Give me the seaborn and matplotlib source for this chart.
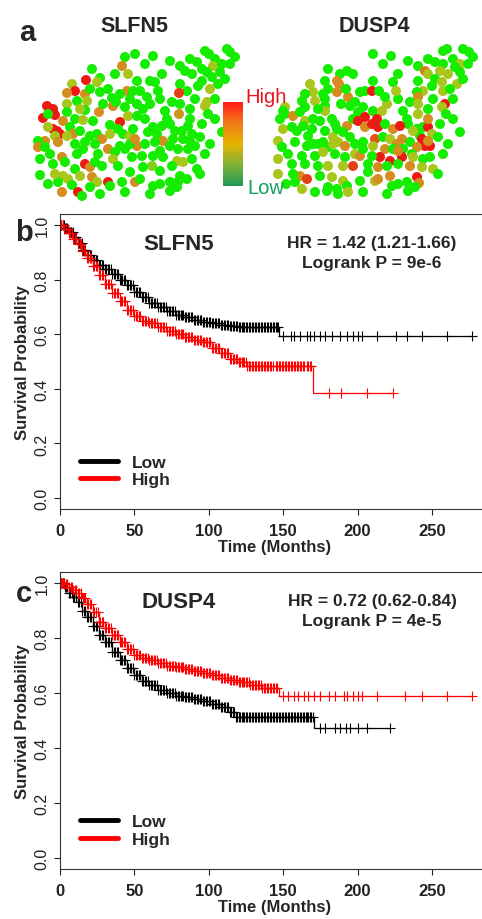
"""SLFN5 / DUSP4 figure: spatial expression maps (a) and Kaplan-Meier curves (b, c)."""

import matplotlib as mpl
import matplotlib.pyplot as plt
import numpy as np
import seaborn as sns
from matplotlib.colors import LinearSegmentedColormap
from matplotlib.lines import Line2D

sns.set_theme(style="ticks")
mpl.rcParams.update(
    {
        "axes.linewidth": 0.8,
        "axes.edgecolor": "#333333",
        "xtick.color": "#222222",
        "ytick.color": "#222222",
        "xtick.major.size": 4,
        "ytick.major.size": 4,
        "xtick.major.width": 0.8,
        "ytick.major.width": 0.8,
        "xtick.major.pad": 6,
    }
)
plt.rcParams["font.family"] = ["Liberation Sans", "DejaVu Sans"]

# ---- panel a: spot positions (embedding units) and relative expression 0..1
SLFN5_X = [105, 95, 92, 98, 62, 70, 67, 56, 42, 45, 37, 55, 70, 47, 37, 57, 17, 23, 13, 25,
           18, 37, 33, 45, 55, 53, 69, 63, 82, 83, 86, 97, 90, 103, 100, 95, 107, 98, 90, 80,
           23, 27, 30, 18, 25, 28, 15, 8, 8, 15, 40, 43, 37, 50, 60, 67, 72, 80, 88, 93,
           100, 103, 107, 100, 90, 78, 85, 68, 53, 47, 32, 35, 23, 55, 60, 65, 72, 83, 88, 102,
           45, 10, 33, 38, 50, 62, 67, 78, 80, 92, 28, 42, 32, 48, 52, 105, 123, 175, 179, 197,
           200, 185, 183, 192, 167, 172, 190, 177, 150, 155, 162, 182, 172, 188, 180, 168, 150, 157, 149, 132,
           125, 120, 107, 110, 175, 177, 160, 149, 135, 137, 113, 120, 115, 107, 160, 158, 152, 162, 153, 143,
           123, 127, 118, 105, 133, 125, 115, 140, 148, 158, 165, 192, 112, 123, 133, 147, 153, 162, 167, 170,
           142, 122, 113, 130, 150, 123, 130, 140, 148, 120, 140, 147, 157,
           130, 142, 128, 117, 150, 165, 185, 195, 200, 205, 160, 140, 115, 85, 78, 60, 50, 73, 65, 55,
           45, 20, 10, 25, 18, 60, 70, 95, 100, 110, 95, 130, 175, 180, 170, 172, 178, 185, 140, 132,
           160, 145]
SLFN5_Y = [145, 142, 133, 125, 130, 121, 117, 119, 115, 108, 106, 105, 107, 98, 95, 98, 93, 90, 81, 84,
           85, 87, 78, 80, 89, 79, 87, 78, 101, 93, 97, 108, 105, 108, 100, 92, 95, 83, 77, 74,
           70, 68, 65, 72, 63, 57, 58, 58, 52, 52, 72, 65, 63, 68, 63, 65, 60, 65, 70, 65,
           63, 70, 53, 55, 53, 50, 47, 45, 50, 45, 42, 37, 35, 35, 32, 37, 33, 40, 33, 42,
           30, 24, 23, 20, 23, 22, 17, 17, 13, 17, 17, 14, 7, 7, 3, 17, 143, 148, 145, 150,
           147, 140, 133, 135, 137, 130, 127, 127, 133, 128, 125, 122, 118, 115, 110, 113, 115, 108, 106, 125,
           117, 118, 118, 108, 93, 97, 90, 85, 88, 80, 90, 95, 80, 83, 80, 73, 68, 65, 60, 60,
           72, 65, 67, 60, 58, 57, 55, 53, 50, 50, 53, 67, 43, 43, 42, 38, 37, 40, 30, 25,
           33, 33, 32, 28, 23, 13, 15, 17, 17, 5, 8, 12, 20,
           100, 97, 108, 102, 95, 100, 100, 120, 135, 142, 140, 138, 135, 125, 110, 110, 90, 95, 55, 57,
           55, 45, 40, 25, 15, 12, 5, 7, 27, 20, 50, 48, 45, 55, 62, 75, 85, 80, 75, 73,
           58, 68]
SLFN5_EXPR = [0, 0, .7, .4, 0, 0, .4, 1, .4, 1, .7, .7, 0, 0, .4, .4, 1, 1, 1, 1,
              0, 0, .7, 0, 0, .4, .7, 0, 0, .7, 0, .7, 0, 0, 0, 0, 0, .4, 1, 0,
              1, 1, 1, .4, .4, .7, .7, 0, .7, 0, 0, .7, .4, 0, 0, 0, .7, .4, 0, 0,
              .4, 0, .7, 0, 0, .7, 0, 0, 0, 0, .7, 0, 0, 1, .7, 0, 0, .4, 0, 0,
              0, 0, .4, .4, .4, .7, .4, 1, 0, 0, 0, 0, .7, 1, 0, .7, 0, 0, 0, 0,
              0, 0, .4, 0, 0, 0, 0, 0, 0, 0, 0, 0, 0, 0, .4, 0, 0, 0, .9, 0,
              0, 0, 0, 0, .4, .4, 0, .65, 0, 0, 0, 0, 0, 0, 0, 0, 0, 0, 0, 0,
              0, 0, 0, .7, .7, 0, 0, 0, 0, 0, 0, 0, 0, 0, 0, .4, .4, 0, 0, 0,
              0, .3, 0, 0, 0, 0, 0, 0, 0, 0, 0, 0, 0,
              0, 0, 0, 0, 0, 0, 0, 0, 0, 0, 0, 0, 0, 0, 0, 0, .4, 0, 0, 0,
              0, 0, 0, .4, 0, 0, 0, 0, 0, 0, 0, 0, 0, 0, 0, 0, 0, 0, 0, 0,
              0, 0]

DUSP4_X = [60, 72, 79, 69, 71, 57, 42, 45, 55, 69, 37, 47, 57, 57, 34, 17, 37, 12, 17, 25,
           32, 37, 45, 52, 57, 64, 67, 80, 82, 87, 92, 97, 104, 95, 90, 85, 90, 97, 105, 15,
           24, 29, 35, 44, 40, 57, 65, 69, 79, 75, 82, 97, 104, 10, 14, 27, 39, 50, 60, 70,
           77, 87, 95, 34, 47, 55, 67, 77, 87, 92, 24, 37, 50, 60, 75, 85, 100, 10, 32, 39,
           27, 52, 64, 75, 79, 92, 34, 47, 59, 69, 80, 105, 123, 175, 179, 195, 201, 185, 167, 175,
           192, 187, 150, 157, 160, 172, 180, 192, 130, 125, 105, 150, 167, 174, 189, 164, 155, 149, 175, 182,
           150, 177, 174, 111, 119, 114, 135, 139, 150, 160, 109, 110, 117, 125, 149, 155, 160, 160, 164, 152,
           192, 107, 115, 122, 134, 129, 142, 154, 157, 162, 149, 105, 117, 125, 135, 144, 112, 122, 134, 145,
           155, 162, 104, 110, 119, 130, 142, 154, 165, 170, 107, 122, 149, 151, 139, 124, 130, 147, 119, 140,
           15,
           130, 142, 128, 117, 150, 165, 185, 195, 200, 205, 160, 140, 115, 85, 78, 60, 50, 73, 65, 55,
           45, 20, 10, 25, 18, 60, 70, 95, 100, 110, 95, 130, 175, 180, 170, 172, 178, 185, 140, 132,
           160, 145]
DUSP4_Y = [130, 125, 128, 118, 115, 118, 115, 107, 105, 107, 105, 98, 100, 93, 98, 92, 92, 80, 85, 83,
           87, 78, 80, 78, 88, 80, 75, 102, 93, 97, 107, 108, 108, 92, 87, 80, 78, 82, 88, 70,
           72, 68, 73, 70, 63, 68, 62, 70, 73, 67, 62, 72, 75, 58, 52, 57, 53, 55, 52, 57,
           53, 55, 57, 43, 43, 47, 45, 42, 45, 43, 35, 35, 33, 33, 33, 33, 35, 25, 23, 20,
           17, 23, 22, 18, 13, 18, 10, 7, 8, 10, 7, 145, 143, 148, 150, 150, 147, 140, 137, 135,
           135, 132, 133, 128, 125, 128, 125, 127, 125, 117, 118, 118, 120, 117, 115, 113, 108, 107, 108, 110,
           102, 95, 92, 108, 95, 88, 88, 80, 85, 90, 80, 72, 75, 70, 70, 72, 72, 80, 65, 63,
           67, 60, 62, 60, 60, 55, 57, 60, 53, 53, 52, 53, 50, 50, 50, 45, 42, 38, 42, 42,
           40, 42, 43, 32, 33, 35, 33, 32, 30, 25, 18, 23, 22, 16, 17, 13, 15, 12, 5, 8,
           88,
           100, 97, 108, 102, 95, 100, 100, 120, 135, 142, 140, 138, 135, 125, 110, 110, 90, 95, 55, 57,
           55, 45, 40, 25, 15, 12, 5, 7, 27, 20, 50, 48, 45, 55, 62, 75, 85, 80, 75, 73,
           58, 68]
DUSP4_EXPR = [0, 0, 0, .7, .7, 0, .4, .4, 0, .7, 0, .4, 0, 0, 0, .4, 0, 0, 0, .7,
              0, .4, 0, 0, .4, 0, 0, .7, 0, 0, 0, 0, 1, 0, 0, 0, 1, 1, 0, .4,
              0, 0, 0, 0, 0, 0, .4, 0, .7, 0, 0, .7, 1, .4, 0, 0, 0, 0, 0, .4,
              .7, 0, 0, 0, 0, .4, 0, 0, .4, .7, 0, 0, 0, .4, .4, .9, 0, .4, .7, .9,
              0, 0, .4, .4, 0, 0, .4, 0, 0, 0, .4, 0, 0, 0, 0, 0, 0, 0, 0, 0,
              .4, 0, 0, .75, .4, .4, .4, 0, 0, 0, 0, 0, 0, .4, .4, 0, .4, 0, .4, 0,
              .7, 1, .4, 0, .4, .4, 0, 0, .4, 0, 1, 1, 0, .7, 0, 0, 1, .7, .4, 0,
              0, .85, 0, .4, .7, .7, 0, 1, 1, 1, .7, .4, .7, 0, 0, 0, 1, 1, 1, .4,
              0, 0, 0, .7, 0, 0, .7, .4, .4, 0, .45, .7, 1, .7, 0, 0, 0, 0, 0, 0,
              0,
              0, 0, .4, 0, .4, 0, 0, 0, 0, 0, 0, 0, 0, 0, 0, 0, 0, 0, .4, 0,
              0, 0, .4, 0, 0, 0, 0, 0, 0, .7, 0, .7, 0, 0, 0, 0, 0, 0, 0, 1,
              .7, .4]

# ---- panels b, c: Kaplan-Meier step points (months, survival) and censor times
SLFN5_LOW_T = [0, 3, 6, 9, 12, 15, 18, 22, 26, 30, 35, 40, 45, 50, 55, 60, 66, 72, 78, 84,
               90, 96, 102, 108, 114, 120, 130, 147, 277]
SLFN5_LOW_S = [1.0, 0.99, 0.975, 0.955, 0.935, 0.91, 0.89, 0.87, 0.855, 0.84, 0.82, 0.80, 0.78,
               0.755, 0.735, 0.715, 0.70, 0.685, 0.672, 0.662, 0.653, 0.645, 0.64, 0.635, 0.63,
               0.628, 0.625, 0.593, 0.593]
SLFN5_LOW_CENS = [1, 2.5, 4, 5, 7, 8.5, 10, 11, 13, 14.5, 16, 17, 19, 21, 22, 24, 26, 27, 29, 31,
                  33, 34, 36, 38, 40, 41, 43, 45, 47, 48, 50, 52, 54, 56, 57, 59, 61, 63, 65, 66,
                  68, 70, 72, 74, 75, 77, 79, 81, 83, 84, 86, 88, 90, 92, 94, 95, 97, 99, 101, 103,
                  104, 106, 108, 110, 112, 113, 115, 117, 119, 121, 122, 124, 126, 128, 130, 132,
                  134, 136, 138, 140, 141, 143, 145, 146, 150, 155, 157, 161, 166, 168, 171, 175,
                  178, 183, 188, 193, 197, 200, 203, 213, 226, 233, 243, 260, 277,
                  60, 62, 64, 67, 69, 71, 73, 76, 78, 80, 82, 85, 87, 89, 91, 93, 96, 98, 100,
                  102, 105, 107, 109, 111, 114, 116, 118, 120, 123, 125, 127, 129, 131, 133, 135,
                  137, 139, 142, 144, 146.5,
                  0.5, 2, 3.5, 6, 7.5, 9.5, 12, 13.5, 15.5, 18, 20, 23, 25, 28, 30, 32, 35, 37,
                  39, 42, 44, 46, 49, 51, 53, 55, 58]
SLFN5_HIGH_T = [0, 3, 6, 9, 12, 15, 18, 22, 26, 30, 35, 40, 45, 50, 55, 60, 66, 72, 78, 84,
                90, 96, 102, 108, 114, 120, 126, 170, 224]
SLFN5_HIGH_S = [1.0, 0.985, 0.97, 0.95, 0.93, 0.905, 0.88, 0.85, 0.815, 0.785, 0.75, 0.72, 0.69,
                0.665, 0.65, 0.64, 0.625, 0.612, 0.60, 0.59, 0.58, 0.57, 0.55, 0.53, 0.51, 0.50,
                0.485, 0.386, 0.386]
SLFN5_HIGH_CENS = [1, 2, 4, 5.5, 7, 9, 10, 12, 13.5, 15, 17, 18, 20, 22, 23, 25, 27, 29, 30, 32,
                   34, 36, 37, 39, 41, 43, 45, 46, 48, 50, 52, 54, 55, 57, 59, 61, 63, 64, 66, 68,
                   70, 72, 73, 75, 77, 79, 81, 82, 84, 86, 88, 90, 91, 93, 95, 97, 99, 100, 102,
                   104, 106, 108, 109, 111, 113, 115, 117, 118, 120, 122, 124, 127, 130, 132, 134,
                   137, 140, 141, 145, 147, 150, 152, 153, 156, 159, 162, 164, 168, 181, 189, 206, 224,
                   60, 62, 65, 67, 69, 71, 74, 76, 78, 80, 83, 85, 87, 89, 92, 94, 96, 98, 101,
                   103, 105, 107, 110, 112, 114, 116, 119, 121, 123, 125, 126, 128, 129, 131, 133,
                   135, 136, 138, 139, 142, 143, 146, 148, 149, 151, 154, 155, 157, 158, 160, 161,
                   163, 166, 167, 169,
                   0.5, 3, 6, 8, 11, 14, 16, 19, 21, 24, 26, 28, 31, 33, 35, 38, 40, 42, 44, 47,
                   49, 51, 53, 56, 58]

DUSP4_LOW_T = [0, 3, 6, 9, 12, 15, 18, 22, 26, 30, 35, 40, 45, 50, 55, 60, 66, 72, 78, 84,
               90, 96, 102, 108, 114, 118, 171, 222]
DUSP4_LOW_S = [1.0, 0.985, 0.965, 0.95, 0.93, 0.90, 0.875, 0.845, 0.81, 0.785, 0.75, 0.72, 0.69,
               0.665, 0.645, 0.63, 0.612, 0.60, 0.59, 0.585, 0.578, 0.57, 0.56, 0.55, 0.53, 0.511,
               0.474, 0.474]
DUSP4_LOW_CENS = [1, 2.5, 4, 6, 7, 9, 10.5, 12, 14, 15, 17, 19, 20, 22, 24, 25, 27, 29, 31, 32,
                  34, 36, 38, 39, 41, 43, 45, 46, 48, 50, 52, 53, 55, 57, 59, 61, 62, 64, 66, 68,
                  69, 71, 73, 75, 77, 78, 80, 82, 84, 86, 87, 89, 91, 93, 95, 96, 98, 100, 102,
                  104, 105, 107, 109, 111, 113, 115, 117, 119, 121, 123, 125, 127, 129, 131, 133,
                  135, 137, 139, 141, 143, 145, 148, 150, 152, 155, 158, 160, 163, 165, 167, 169,
                  175, 178, 185, 188, 192, 195, 200, 206, 222,
                  60, 63, 65, 67, 70, 72, 74, 76, 79, 81, 83, 85, 88, 90, 92, 94, 97, 99, 101,
                  103, 106, 108, 110, 112, 114, 116, 118, 120, 122, 124, 126, 128, 130, 132, 134,
                  136, 138, 140, 142, 144, 146, 147, 149, 151, 153, 154, 156, 157, 159, 161, 162,
                  164, 166, 168, 170,
                  0.5, 2, 3.5, 5, 8, 9.5, 11, 13, 16, 18, 21, 23, 26, 28, 30, 33, 35, 37, 40,
                  42, 44, 47, 49, 51, 54, 56, 58]
DUSP4_HIGH_T = [0, 3, 6, 9, 12, 15, 18, 22, 26, 30, 35, 40, 45, 50, 55, 60, 66, 72, 78, 84,
                90, 96, 102, 108, 114, 120, 128, 136, 147, 277]
DUSP4_HIGH_S = [1.0, 0.995, 0.985, 0.975, 0.965, 0.945, 0.925, 0.895, 0.86, 0.835, 0.81, 0.785,
                0.76, 0.74, 0.728, 0.72, 0.71, 0.70, 0.693, 0.687, 0.68, 0.673, 0.665, 0.656,
                0.648, 0.64, 0.63, 0.62, 0.589, 0.589]
DUSP4_HIGH_CENS = [1.5, 3, 4, 6, 7.5, 9, 11, 12, 14, 15.5, 17, 19, 20, 22, 24, 25.5, 27, 29, 31,
                   32, 34, 36, 37, 39, 41, 43, 44, 46, 48, 50, 51, 53, 55, 57, 59, 60, 62, 64, 66,
                   67, 69, 71, 73, 75, 76, 78, 80, 82, 84, 85, 87, 89, 91, 93, 94, 96, 98, 100,
                   102, 103, 105, 107, 109, 111, 112, 114, 116, 118, 120, 121, 123, 125, 127, 129,
                   131, 133, 135, 137, 139, 141, 143, 145, 150, 153, 157, 160, 164, 167, 171, 175,
                   181, 185, 191, 193, 197, 200, 203, 213, 232, 243, 260, 277,
                   61, 63, 65, 68, 70, 72, 74, 77, 79, 81, 83, 86, 88, 90, 92, 95, 97, 99, 101,
                   104, 106, 108, 110, 113, 115, 117, 119, 122, 124, 126, 128, 130, 132, 134, 136,
                   138, 140, 142, 144, 146,
                   0.5, 2, 5, 8, 10, 13, 16, 18, 21, 23, 26, 28, 30, 33, 35, 38, 40, 42, 45, 47,
                   49, 52, 54, 56, 58]

X_TICKS = [0, 50, 100, 150, 200, 250]
Y_TICKS = [0.0, 0.2, 0.4, 0.6, 0.8, 1.0]

EXPR_CMAP = LinearSegmentedColormap.from_list(
    "expr", [(0, "#14ec00"), (0.4, "#a8c61c"), (0.7, "#d48e1e"), (1.0, "#ec1a12")]
)
BAR_CMAP = LinearSegmentedColormap.from_list(
    "bar", ["#1f9a55", "#7fb23a", "#e8b400", "#f27c18", "#ff1a1a"]
)

W, H = 482, 920


def box(x0, y0, x1, y1):
    # pixel rectangle (top-left origin) -> figure fraction
    return [x0 / W, 1 - y1 / H, (x1 - x0) / W, (y1 - y0) / H]


def step_value(t, s, tc):
    idx = np.searchsorted(np.asarray(t), np.asarray(tc), side="right") - 1
    return np.asarray(s)[idx]


def km_panel(ax, curves, gene, hr, p):
    for t, s, cens, color in curves:
        sns.lineplot(x=t, y=s, ax=ax, color=color, lw=0.9, drawstyle="steps-post",
                     estimator=None, sort=False)
        ax.plot(cens, step_value(t, s, cens), ls="none", marker="+", ms=6.5, mew=0.8,
                color=color)
    ax.set_xlim(0, 289)
    ax.set_ylim(-0.04, 1.04)
    ax.set_xticks(X_TICKS)
    ax.set_xticklabels([str(v) for v in X_TICKS], fontsize=12, fontweight="bold")
    ax.set_yticks(Y_TICKS)
    ax.set_yticklabels([f"{v:.1f}" for v in Y_TICKS], fontsize=11.5, rotation=90, va="center")
    ax.set_xlabel("Time (Months)", fontsize=12, fontweight="bold", labelpad=1)
    ax.set_ylabel("Survival Probability", fontsize=12, fontweight="bold", labelpad=3)
    for side in ("top", "right"):
        ax.spines[side].set_visible(True)
    ax.text(0.277, 0.90, gene, transform=ax.transAxes, ha="center", va="center",
            fontsize=16, fontweight="bold")
    ax.text(0.726, 0.905, hr, transform=ax.transAxes, ha="center", va="center",
            fontsize=12.5, fontweight="bold")
    ax.text(0.726, 0.837, p, transform=ax.transAxes, ha="center", va="center",
            fontsize=12.5, fontweight="bold")
    handles = [Line2D([], [], color="black", lw=3.5), Line2D([], [], color="red", lw=3.5)]
    ax.legend(handles, ["Low", "High"], loc="upper left", bbox_to_anchor=(0.0465, 0.185),
              frameon=False, borderpad=0, borderaxespad=0, handlelength=2.2,
              handletextpad=0.8, labelspacing=0.15, prop={"size": 12.5, "weight": "bold"})


fig = plt.figure(figsize=(W / 100, H / 100), dpi=100)

# ---- panel a
for left, xs, ys, vs, name, cx in [
    (30, SLFN5_X, SLFN5_Y, SLFN5_EXPR, "SLFN5", 134),
    (268, DUSP4_X, DUSP4_Y, DUSP4_EXPR, "DUSP4", 374),
]:
    ax = fig.add_axes(box(left, 40, left + 220, 200))
    # float() matters: an int passed to a Colormap is read as a LUT index
    levels = {v: EXPR_CMAP(float(v)) for v in vs}
    sns.scatterplot(x=xs, y=ys, hue=vs, palette=levels, s=52, linewidth=0,
                    legend=False, ax=ax)
    for coll in ax.collections:
        coll.set_clip_on(False)
    ax.set_xlim(0, 220)
    ax.set_ylim(0, 160)
    ax.axis("off")
    fig.text(cx / W, 1 - 27 / H, name, ha="center", va="center", fontsize=15.5, fontweight="bold")

cax = fig.add_axes(box(223, 103, 243, 187))
cax.imshow(np.linspace(0, 1, 256)[:, None], aspect="auto", cmap=BAR_CMAP, origin="lower")
cax.axis("off")
fig.text(245 / W, 1 - 98 / H, "High", color="#e8141e", fontsize=14.5, ha="left", va="center")
fig.text(247 / W, 1 - 189 / H, "Low", color="#17a05a", fontsize=14.5, ha="left", va="center")

# ---- panel b
ax_b = fig.add_axes(box(60, 215, 490, 510))
km_panel(
    ax_b,
    [(SLFN5_LOW_T, SLFN5_LOW_S, SLFN5_LOW_CENS, "black"),
     (SLFN5_HIGH_T, SLFN5_HIGH_S, SLFN5_HIGH_CENS, "red")],
    "SLFN5", "HR = 1.42 (1.21-1.66)", "Logrank P = 9e-6",
)

# ---- panel c
ax_c = fig.add_axes(box(60, 573, 490, 870))
km_panel(
    ax_c,
    [(DUSP4_LOW_T, DUSP4_LOW_S, DUSP4_LOW_CENS, "black"),
     (DUSP4_HIGH_T, DUSP4_HIGH_S, DUSP4_HIGH_CENS, "red")],
    "DUSP4", "HR = 0.72 (0.62-0.84)", "Logrank P = 4e-5",
)

for letter, x, y in [("a", 27, 33), ("b", 24, 233), ("c", 24, 594)]:
    fig.text(x / W, 1 - y / H, letter, ha="center", va="center", fontsize=21, fontweight="bold")

fig.savefig("out.png", dpi=100)
